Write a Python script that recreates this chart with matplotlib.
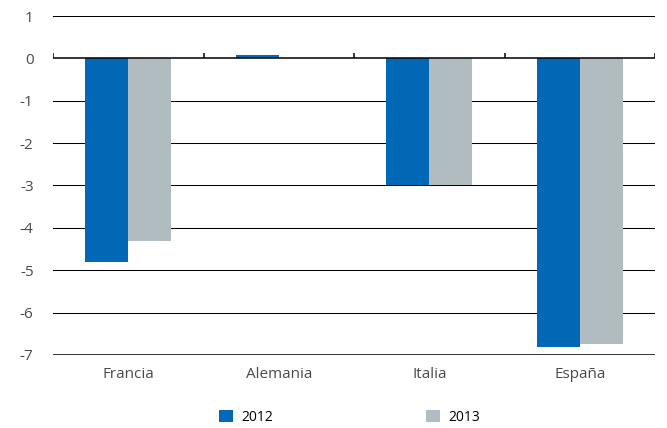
import numpy as np
import matplotlib.pyplot as plt

plt.rcParams['font.family'] = ['Open Sans', 'DejaVu Sans']

categories = ["Francia", "Alemania", "Italia", "España"]
series_names = ["2012", "2013"]
values_2012 = [-4.8, 0.07, -3.0, -6.8]
values_2013 = [-4.3, 0.0, -3.0, -6.75]
y_ticks = [1, 0, -1, -2, -3, -4, -5, -6, -7]

blue = "#0068b4"
grey = "#b1bcc0"
text_col = "#4a4a4a"

fig = plt.figure(figsize=(6.67, 4.28), dpi=100)
ax = fig.add_axes([0.0795, 0.1706, 0.9025, 0.792])

x = np.arange(len(categories))
w = 0.286
ax.bar(x - w / 2, values_2012, w, color=blue, label=series_names[0], zorder=3)
ax.bar(x + w / 2, values_2013, w, color=grey, label=series_names[1], zorder=3)

ax.set_xlim(-0.5, len(categories) - 0.5)
ax.set_ylim(min(y_ticks), max(y_ticks))
ax.set_yticks(y_ticks)
ax.set_yticklabels([str(v) for v in y_ticks])

# horizontal gridlines
for v in y_ticks:
    lw = 1.1 if v in (0, min(y_ticks)) else 0.75
    ax.axhline(v, color="black", lw=lw, zorder=4 if v == 0 else 1)

# small ticks on the zero line between categories
bounds = np.arange(len(categories) + 1) - 0.5
ax.vlines(bounds, 0, 0.12, color="black", lw=1.1, zorder=4)

for s in ax.spines.values():
    s.set_visible(False)
ax.set_xticks(x)
ax.set_xticklabels(categories)
ax.tick_params(axis="both", length=0, colors=text_col, labelsize=11)
ax.tick_params(axis="x", pad=9)
ax.tick_params(axis="y", pad=14)

ax.legend(loc="upper center", bbox_to_anchor=(0.493, -0.125), ncol=2, frameon=False,
          fontsize=10, handlelength=1.0, handleheight=1.0, columnspacing=11,
          handletextpad=0.6, labelcolor="black")

fig.savefig("out.png", dpi=100)
